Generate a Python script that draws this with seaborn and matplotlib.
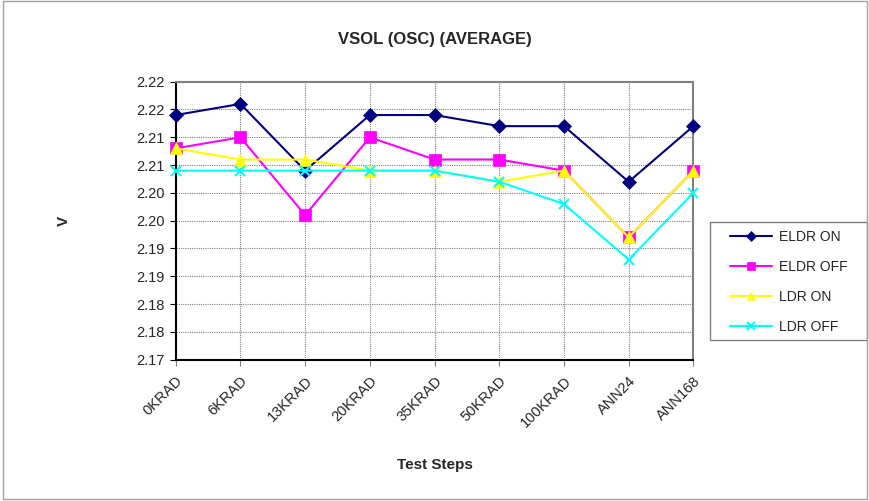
import numpy as np
import pandas as pd
import matplotlib
matplotlib.use("Agg")
import matplotlib.pyplot as plt
import seaborn as sns
from matplotlib.patches import Rectangle

steps = ["0KRAD", "6KRAD", "13KRAD", "20KRAD", "35KRAD", "50KRAD", "100KRAD", "ANN24", "ANN168"]
eldr_on = [2.214, 2.216, 2.204, 2.214, 2.214, 2.212, 2.212, 2.202, 2.212]
eldr_off = [2.208, 2.210, 2.196, 2.210, 2.206, 2.206, 2.204, 2.192, 2.204]
ldr_on = [2.208, 2.206, 2.206, 2.204, 2.204, 2.202, 2.204, 2.192, 2.204]
ldr_off = [2.204, 2.204, 2.204, 2.204, 2.204, 2.202, 2.198, 2.188, 2.200]

y_ticks = [2.170, 2.175, 2.180, 2.185, 2.190, 2.195, 2.200, 2.205, 2.210, 2.215, 2.220]
y_tick_labels = ["2.17", "2.18", "2.18", "2.19", "2.19", "2.20", "2.20", "2.21", "2.21", "2.22", "2.22"]

series = {
    "ELDR ON": (eldr_on, "#000080", "D", 7),
    "ELDR OFF": (eldr_off, "#FF00FF", "s", 8),
    "LDR ON": (ldr_on, "#FFFF00", "^", 8),
    "LDR OFF": (ldr_off, "#00FFFF", "x", 7),
}

sns.set_style("white")
plt.rcParams["font.family"] = ["Liberation Sans", "DejaVu Sans"]

fig = plt.figure(figsize=(8.7, 5.01), dpi=100)
ax = fig.add_axes([0.202, 0.282, 0.595, 0.555])

for name, (vals, color, marker, ms) in series.items():
    df = pd.DataFrame({"step": steps, "value": vals})
    sns.lineplot(data=df, x="step", y="value", ax=ax, color=color, marker=marker,
                 markersize=ms, markeredgecolor=color, markeredgewidth=1.5 if marker == "x" else 0.5,
                 linewidth=1.5, label=name, sort=False, clip_on=False, zorder=3)

ax.set_xlim(0, len(steps) - 1)
ax.set_ylim(2.170, 2.220)
ax.set_yticks(y_ticks)
ax.set_yticklabels(y_tick_labels, fontsize=10.5)
ax.set_xticks(range(len(steps)))
ax.set_xticklabels(steps, rotation=45, ha="right", rotation_mode="anchor", fontsize=10.5)
ax.tick_params(axis="x", length=4, pad=6, direction="out", bottom=True, color="#808080")
ax.tick_params(axis="y", length=4, pad=4, direction="out", left=True, color="black")

ax.grid(True, color="#808080", linestyle=(0, (1, 1)), linewidth=0.8)
for side in ["top", "right"]:
    ax.spines[side].set_color("#808080")
    ax.spines[side].set_linewidth(1.5)
for side in ["left", "bottom"]:
    ax.spines[side].set_color("black")
    ax.spines[side].set_linewidth(1.5)

ax.set_title("VSOL (OSC) (AVERAGE)", fontsize=12, fontweight="bold", pad=27)
ax.set_xlabel("Test Steps", fontsize=11, fontweight="bold", labelpad=20)
ax.set_ylabel("V", fontsize=11, fontweight="bold", labelpad=47)

# legend without its own frame; the box is drawn separately to match the wide Excel-style frame
leg = ax.legend(loc="upper left", bbox_to_anchor=(0.8276, 0.561), bbox_transform=fig.transFigure,
                frameon=False, fontsize=10, handlelength=3.0,
                labelspacing=1.15, borderpad=0.75, handletextpad=0.5, borderaxespad=0,
                markerscale=0.75)
fig.patches.append(Rectangle((710 / 870, 1 - 340 / 501), 157 / 870, 118 / 501,
                             transform=fig.transFigure, fill=False,
                             edgecolor="#808080", linewidth=1.0))

fig.patches.append(Rectangle((0.003, 0.004), 0.994, 0.994, transform=fig.transFigure,
                             fill=False, edgecolor="#a0a0a0", linewidth=1.0))

fig.savefig("out.png", dpi=100)
